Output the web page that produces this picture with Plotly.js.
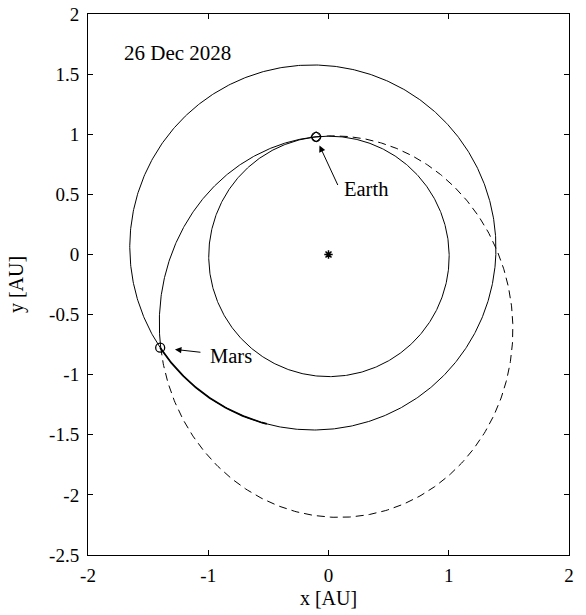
<!DOCTYPE html>
<html>
<head>
<meta charset="utf-8">
<script src="https://cdn.plot.ly/plotly-3.0.1.min.js"></script>
<style>html,body{margin:0;padding:0;background:#fff;}#chart{width:586px;height:615px;}</style>
</head>
<body>
<div id="chart"></div>
<script>
// Orbital elements (heliocentric ecliptic, AU / degrees)
const orbitNames   = ['Earth', 'Mars', 'Transfer'];
const semiMajor    = [1.0000, 1.5237, 1.588];   // a [AU]
const eccentricity = [0.0167, 0.0934, 0.380];   // e
const periLongitude= [102.9, 336.0, 96.0];      // longitude of perihelion [deg]

// Body positions (true longitudes) on the date shown
const bodyNames    = ['Earth', 'Mars'];
const bodyLongitude= [96.0, 209.0];

// Arcs (longitude ranges, deg)
const transferSolidArc = [96.0, 209.0];
const transferDashedArc = [209.0, 456.0];
const marsBoldArc = [209.0, 250.0];

const dateLabel = '26 Dec 2028';
const xTicks = [-2, -1, 0, 1, 2];
const yTicks = [-2.5, -2, -1.5, -1, -0.5, 0, 0.5, 1, 1.5, 2];

function radius(i, lonDeg) {
  const a = semiMajor[i], e = eccentricity[i];
  const p = a * (1 - e * e);
  return p / (1 + e * Math.cos((lonDeg - periLongitude[i]) * Math.PI / 180));
}
function arc(i, from, to) {
  const xs = [], ys = [];
  const n = Math.max(2, Math.ceil(Math.abs(to - from) * 2));
  for (let k = 0; k <= n; k++) {
    const th = from + (to - from) * k / n;
    const r = radius(i, th);
    xs.push(r * Math.cos(th * Math.PI / 180));
    ys.push(r * Math.sin(th * Math.PI / 180));
  }
  return {x: xs, y: ys};
}
function pos(i, lon) {
  const r = radius(i, lon);
  return [r * Math.cos(lon * Math.PI / 180), r * Math.sin(lon * Math.PI / 180)];
}

const blk = '#000';
const traces = [];
const earthOrbit = arc(0, 0, 360);
traces.push({x: earthOrbit.x, y: earthOrbit.y, mode: 'lines', line: {color: blk, width: 1}, hoverinfo: 'skip'});
const marsOrbit = arc(1, 0, 360);
traces.push({x: marsOrbit.x, y: marsOrbit.y, mode: 'lines', line: {color: blk, width: 1}, hoverinfo: 'skip'});
const marsBold = arc(1, marsBoldArc[0], marsBoldArc[1]);
traces.push({x: marsBold.x, y: marsBold.y, mode: 'lines', line: {color: blk, width: 1.8}, hoverinfo: 'skip'});
const tSolid = arc(2, transferSolidArc[0], transferSolidArc[1]);
traces.push({x: tSolid.x, y: tSolid.y, mode: 'lines', line: {color: blk, width: 1}, hoverinfo: 'skip'});
const tDash = arc(2, transferDashedArc[0], transferDashedArc[1]);
traces.push({x: tDash.x, y: tDash.y, mode: 'lines', line: {color: blk, width: 1, dash: '8px,5px'}, hoverinfo: 'skip'});

// Sun
traces.push({x: [0], y: [0], mode: 'markers', marker: {symbol: 'asterisk-open', size: 7, color: blk, line: {color: blk, width: 1.5}}});
// Earth
const ep = pos(0, bodyLongitude[0]);
traces.push({x: [ep[0]], y: [ep[1]], mode: 'markers', marker: {symbol: 'circle-open', size: 9, color: blk, line: {color: blk, width: 1.3}}});
traces.push({x: [ep[0]], y: [ep[1]], mode: 'markers', marker: {symbol: 'diamond-open', size: 8, color: blk, line: {color: blk, width: 1}}});
// Mars
const mp = pos(1, bodyLongitude[1]);
traces.push({x: [mp[0]], y: [mp[1]], mode: 'markers', marker: {symbol: 'circle-open', size: 9, color: blk, line: {color: blk, width: 1.3}}});

const fam = '"Liberation Serif", "Times New Roman", serif';
const tickFont = {family: fam, size: 19, color: '#000'};
const titleFont = {family: fam, size: 20, color: '#000'};
const annFont = {family: fam, size: 20.5, color: '#000'};

const layout = {
  width: 586, height: 615,
  margin: {l: 88, r: 17, t: 14, b: 60},
  paper_bgcolor: '#fff', plot_bgcolor: '#fff',
  showlegend: false,
  font: tickFont,
  xaxis: {
    range: [-2, 2], tickvals: xTicks, ticktext: xTicks.map(String),
    ticks: 'inside', ticklen: 5, tickcolor: blk, tickwidth: 1,
    showline: true, linecolor: blk, linewidth: 1, mirror: 'ticks',
    showgrid: false, zeroline: false, ticklabelstandoff: 3,
    title: {text: 'x [AU]', font: titleFont, standoff: 6},
    tickfont: tickFont
  },
  yaxis: {
    range: [-2.5, 2], tickvals: yTicks, ticktext: yTicks.map(String),
    ticks: 'inside', ticklen: 5, tickcolor: blk, tickwidth: 1,
    showline: true, linecolor: blk, linewidth: 1, mirror: 'ticks',
    showgrid: false, zeroline: false, ticklabelstandoff: 4,
    title: {text: 'y [AU]', font: titleFont, standoff: 20},
    tickfont: tickFont
  },
  annotations: [
    {x: -1.72, y: 1.676, xref: 'x', yref: 'y', text: dateLabel, showarrow: false, xanchor: 'left', font: {family: fam, size: 21, color: '#000'}},
    {x: 0.110, y: 0.545, xref: 'x', yref: 'y', text: bodyNames[0], showarrow: false, xanchor: 'left', font: annFont},
    {x: -1.0, y: -0.845, xref: 'x', yref: 'y', text: bodyNames[1], showarrow: false, xanchor: 'left', font: annFont},
    {x: -0.075, y: 0.906, xref: 'x', yref: 'y', text: '', showarrow: true,
     ax: 19, ay: 41, arrowhead: 2, arrowsize: 1.3, arrowwidth: 1, arrowcolor: blk, standoff: 0, startstandoff: 0},
    {x: -1.277, y: -0.790, xref: 'x', yref: 'y', text: '', showarrow: true,
     ax: 27, ay: 3, arrowhead: 2, arrowsize: 1.3, arrowwidth: 1, arrowcolor: blk, standoff: 0, startstandoff: 0}
  ]
};

Plotly.newPlot('chart', traces, layout, {staticPlot: true, displayModeBar: false});
</script>
</body>
</html>
